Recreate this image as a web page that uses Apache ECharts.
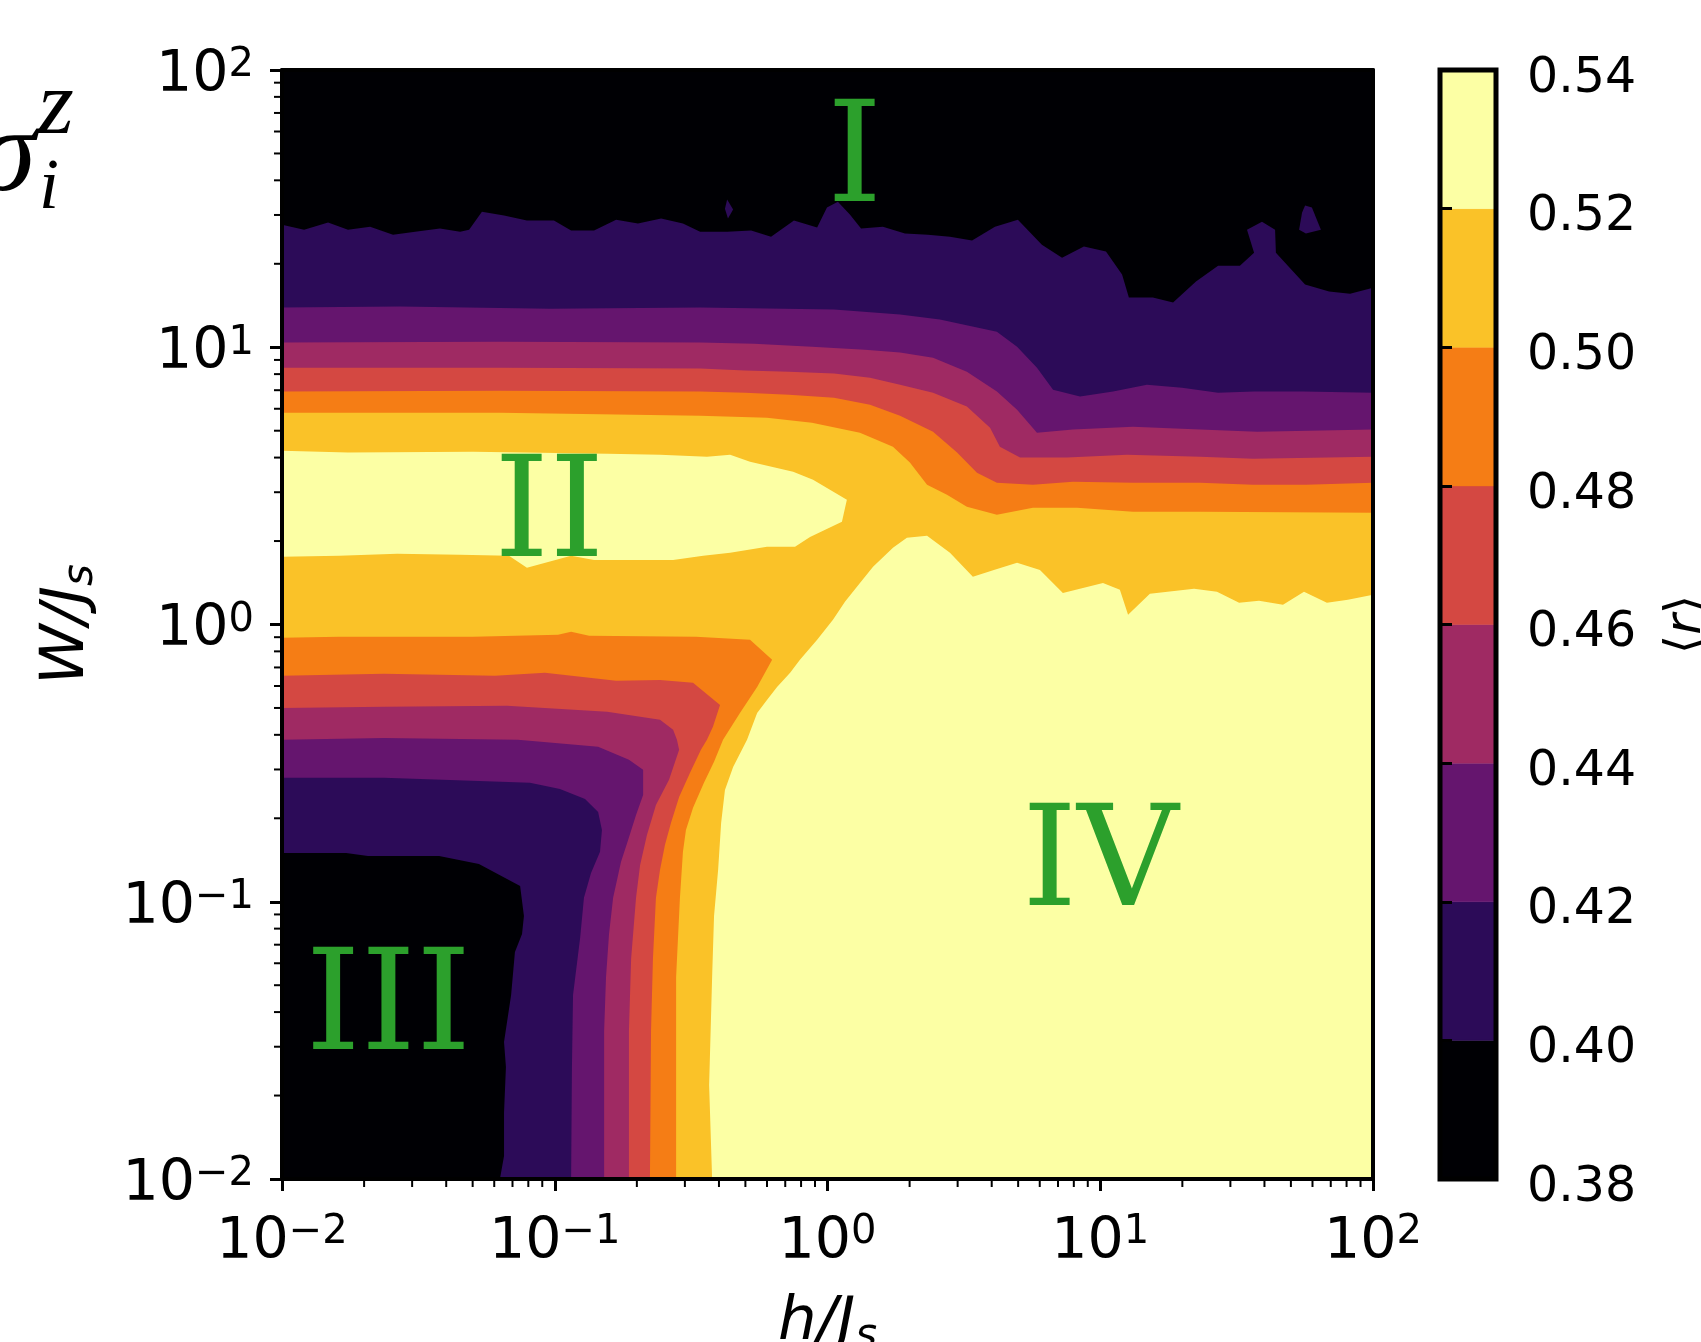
<!DOCTYPE html>
<html lang="en">
<head>
<meta charset="utf-8" />
<script src="https://cdn.jsdelivr.net/npm/echarts@6/dist/echarts.min.js"></script>
<style>
  html, body { margin: 0; background: #fff; }
  #container { width: 1701px; height: 1342px; }
</style>
</head>
<body>
<div id="container"></div>
<script type="text/javascript">
// filled-contour levels of <r> and the inferno colour of each band
var levels = [0.38, 0.40, 0.42, 0.44, 0.46, 0.48, 0.50, 0.52, 0.54];
var bandColors = ['#000004', '#2c0b58', '#65156e', '#9f2a63', '#d44842', '#f57d15', '#fac228', '#fcffa4'];

// contour boundaries, as [log10(h/Js), log10(W/Js)]
// each array is the region where <r> >= its level
var c038 = [[-2, -2], [2, -2], [2, 2], [-2, 2]];
var c040 = [[-2,1.442],[-1.919,1.424],[-1.831,1.450],[-1.758,1.424],[-1.677,1.435],[-1.593,1.406],[-1.512,1.417],[-1.421,1.428],[-1.347,1.417],[-1.314,1.424],[-1.267,1.489],[-1.186,1.475],[-1.102,1.457],[-1.003,1.457],[-0.940,1.421],[-0.856,1.421],[-0.775,1.460],[-0.695,1.446],[-0.610,1.464],[-0.530,1.446],[-0.467,1.417],[-0.368,1.417],[-0.280,1.421],[-0.207,1.399],[-0.123,1.457],[-0.038,1.432],[-0.002,1.504],[0.038,1.525],[0.082,1.479],[0.123,1.428],[0.203,1.435],[0.284,1.410],[0.368,1.406],[0.449,1.399],[0.530,1.385],[0.614,1.435],[0.698,1.460],[0.786,1.370],[0.860,1.323],[0.940,1.363],[1.021,1.345],[1.080,1.262],[1.105,1.179],[1.193,1.179],[1.267,1.161],[1.351,1.237],[1.432,1.294],[1.512,1.294],[1.564,1.341],[1.538,1.424],[1.593,1.453],[1.641,1.424],[1.644,1.341],[1.751,1.226],[1.839,1.201],[1.916,1.193],[2,1.215],
  [2,-2],[-1.201,-2],[-1.186,-1.917],[-1.186,-1.762],[-1.179,-1.596],[-1.186,-1.506],[-1.160,-1.336],[-1.146,-1.181],[-1.120,-1.116],[-1.113,-1.051],[-1.127,-0.943],[-1.278,-0.864],[-1.424,-0.835],[-1.685,-0.835],[-1.765,-0.824],[-2,-0.824]];
var c040a = [[-0.368,1.533],[-0.346,1.497],[-0.365,1.464],[-0.376,1.500]];
var c040b = [[1.751,1.511],[1.776,1.504],[1.809,1.424],[1.754,1.410],[1.729,1.424],[1.740,1.486]];
var c042 = [[-2,1.143],[-1.567,1.147],[-1.017,1.139],[-0.467,1.143],[0.024,1.136],[0.266,1.118],[0.412,1.100],[0.621,1.056],[0.695,1.002],[0.768,0.926],[0.827,0.847],[0.926,0.822],[1.047,0.840],[1.171,0.865],[1.300,0.854],[1.432,0.836],[1.564,0.840],[1.743,0.840],[2,0.836],
  [2,-2],[-0.940,-2],[-0.937,-1.596],[-0.933,-1.336],[-0.907,-1.131],[-0.893,-0.986],[-0.867,-0.896],[-0.834,-0.820],[-0.827,-0.741],[-0.841,-0.676],[-0.889,-0.629],[-0.981,-0.593],[-1.091,-0.571],[-1.626,-0.553],[-2,-0.553]];
var c044 = [[-2,1.017],[-1.201,1.020],[-0.467,1.017],[-0.269,1.013],[-0.057,1.002],[0.137,0.991],[0.266,0.981],[0.387,0.962],[0.511,0.912],[0.621,0.840],[0.695,0.775],[0.768,0.692],[0.900,0.703],[1.120,0.713],[1.366,0.703],[1.575,0.695],[2,0.703],
  [2,-2],[-0.819,-2],[-0.819,-1.466],[-0.812,-1.271],[-0.801,-1.116],[-0.786,-0.986],[-0.757,-0.856],[-0.731,-0.777],[-0.702,-0.687],[-0.676,-0.615],[-0.676,-0.524],[-0.728,-0.488],[-0.841,-0.441],[-1.135,-0.416],[-1.626,-0.409],[-2,-0.416]];
var c046 = [[-2,0.926],[-1.201,0.926],[-0.467,0.923],[-0.302,0.916],[-0.141,0.912],[0.024,0.905],[0.156,0.890],[0.266,0.865],[0.387,0.836],[0.511,0.786],[0.596,0.710],[0.632,0.641],[0.706,0.602],[0.878,0.602],[1.098,0.612],[1.366,0.605],[1.560,0.598],[2,0.605],
  [2,-2],[-0.728,-2],[-0.728,-1.466],[-0.720,-1.206],[-0.702,-0.986],[-0.687,-0.867],[-0.662,-0.759],[-0.629,-0.651],[-0.581,-0.560],[-0.544,-0.452],[-0.552,-0.416],[-0.566,-0.380],[-0.614,-0.344],[-0.808,-0.315],[-1.175,-0.293],[-1.626,-0.297],[-2,-0.301]];
var c048 = [[-2,0.840],[-1.201,0.843],[-0.467,0.840],[-0.302,0.836],[-0.141,0.829],[0.024,0.818],[0.156,0.793],[0.266,0.753],[0.387,0.695],[0.475,0.620],[0.548,0.547],[0.621,0.511],[0.753,0.504],[0.900,0.515],[1.120,0.511],[1.366,0.511],[1.560,0.504],[1.754,0.504],[2,0.511],
  [2,-2],[-0.651,-2],[-0.647,-1.466],[-0.640,-1.206],[-0.629,-0.986],[-0.614,-0.885],[-0.596,-0.795],[-0.574,-0.716],[-0.544,-0.622],[-0.504,-0.535],[-0.464,-0.452],[-0.442,-0.416],[-0.420,-0.369],[-0.394,-0.290],[-0.493,-0.210],[-0.614,-0.200],[-0.775,-0.203],[-1.036,-0.174],[-1.219,-0.185],[-1.626,-0.178],[-2,-0.185]];
var c050 = [[-2,0.764],[-1.201,0.764],[-0.467,0.753],[-0.222,0.746],[-0.057,0.728],[0.119,0.692],[0.240,0.641],[0.302,0.584],[0.365,0.504],[0.438,0.468],[0.511,0.425],[0.621,0.396],[0.753,0.421],[0.915,0.421],[1.120,0.407],[1.366,0.407],[2,0.403],
  [2,-2],[-0.555,-2],[-0.555,-1.271],[-0.541,-0.986],[-0.530,-0.820],[-0.519,-0.741],[-0.493,-0.661],[-0.453,-0.571],[-0.416,-0.495],[-0.383,-0.416],[-0.321,-0.319],[-0.258,-0.225],[-0.203,-0.127],[-0.284,-0.055],[-0.482,-0.044],[-0.874,-0.041],[-0.940,-0.026],[-0.988,-0.037],[-1.300,-0.044],[-1.593,-0.044],[-1.791,-0.044],[-2,-0.048]];
var c052a = [[-2,0.627],[-1.758,0.620],[-1.300,0.623],[-0.808,0.616],[-0.614,0.612],[-0.442,0.605],[-0.357,0.612],[-0.284,0.587],[-0.126,0.551],[-0.053,0.522],[0.071,0.450],[0.053,0.371],[-0.064,0.316],[-0.119,0.280],[-0.222,0.280],[-0.357,0.259],[-0.456,0.248],[-0.566,0.233],[-0.856,0.233],[-0.940,0.248],[-1.102,0.205],[-1.168,0.248],[-1.347,0.252],[-1.578,0.255],[-1.791,0.248],[-2,0.244]];
var c052b = [[-0.423,-2],[-0.434,-1.661],[-0.423,-1.271],[-0.416,-1.051],[-0.401,-0.885],[-0.390,-0.716],[-0.376,-0.597],[-0.346,-0.514],[-0.295,-0.416],[-0.258,-0.319],[-0.222,-0.272],[-0.185,-0.225],[-0.137,-0.174],[-0.101,-0.127],[-0.038,-0.055],[0.020,0.017],[0.064,0.082],[0.119,0.150],[0.167,0.208],[0.240,0.277],[0.291,0.313],[0.365,0.320],[0.449,0.259],[0.533,0.172],[0.610,0.197],[0.695,0.223],[0.779,0.197],[0.863,0.114],[1.010,0.150],[1.072,0.125],[1.102,0.035],[1.182,0.111],[1.344,0.129],[1.428,0.118],[1.509,0.078],[1.582,0.086],[1.670,0.071],[1.747,0.118],[1.831,0.078],[1.908,0.089],[2,0.107],[2,-2]];

// phase labels and where they sit
var regionNames = ['I', 'II', 'III', 'IV'];
var regionLogH = [0.10, -1.02, -1.61, 1.00];
var regionLogW = [1.66, 0.38, -1.40, -0.88];

// log-axis minor ticks
var minorSteps = [2, 3, 4, 5, 6, 7, 8, 9];
var decadeStarts = [0.01, 0.1, 1, 10];

var regions = [
  { level: 0.38, pts: c038 },
  { level: 0.40, pts: c040 }, { level: 0.40, pts: c040a }, { level: 0.40, pts: c040b },
  { level: 0.42, pts: c042 },
  { level: 0.44, pts: c044 },
  { level: 0.46, pts: c046 },
  { level: 0.48, pts: c048 },
  { level: 0.50, pts: c050 },
  { level: 0.52, pts: c052a }, { level: 0.52, pts: c052b }
];

var minorVals = [];
decadeStarts.forEach(function (d) {
  minorSteps.forEach(function (k) { minorVals.push(k * d); });
});

function lin(p) { return [Math.pow(10, p[0]), Math.pow(10, p[1])]; }

function powLabel(v) {
  var e = Math.round(Math.log10(v));
  return '{b|10}{s|' + (e < 0 ? '\u2212' + (-e) : e) + '}';
}

var FONT = 'DejaVu Sans';
var tickRich = {
  b: { fontFamily: FONT, fontSize: 57, lineHeight: 60, color: '#000' },
  s: { fontFamily: FONT, fontSize: 40, lineHeight: 6, verticalAlign: 'top', color: '#000' }
};
var spine = { show: true, lineStyle: { color: '#000', width: 4 } };
var majorTick = { show: true, length: 12, lineStyle: { color: '#000', width: 3 } };
var nameRich = {
  i: { fontFamily: FONT, fontStyle: 'italic', fontSize: 61, lineHeight: 70, color: '#000' },
  s: { fontFamily: FONT, fontStyle: 'italic', fontSize: 42, lineHeight: 46, verticalAlign: 'bottom', color: '#000' }
};

var dom = document.getElementById('container');
var myChart = echarts.init(dom, null, { renderer: 'canvas' });

var option = {
  animation: false,
  backgroundColor: '#fff',
  grid: [
    { left: 282, top: 70, width: 1091, height: 1109, containLabel: false, outerBoundsMode: 'none' },
    { left: 1440, top: 70, width: 56, height: 1109, containLabel: false, outerBoundsMode: 'none' }
  ],
  xAxis: [
    {
      type: 'log', gridIndex: 0, min: 0.01, max: 100, position: 'bottom', z: 10,
      axisLine: spine, axisTick: majorTick, splitLine: { show: false },
      axisLabel: { margin: 34, formatter: powLabel, rich: tickRich },
      name: '{i|h/J}{s|s}', nameLocation: 'middle', nameGap: 109,
      nameTextStyle: { rich: nameRich }
    },
    {
      type: 'log', gridIndex: 0, min: 0.01, max: 100, position: 'top', z: 10,
      axisLine: spine, axisTick: { show: false }, axisLabel: { show: false }, splitLine: { show: false }
    },
    { type: 'value', gridIndex: 1, min: 0, max: 1, show: false }
  ],
  yAxis: [
    {
      type: 'log', gridIndex: 0, min: 0.01, max: 100, position: 'left', z: 10,
      axisLine: spine, axisTick: majorTick, splitLine: { show: false },
      axisLabel: { margin: 28, padding: [12, 0, 0, 0], formatter: powLabel, rich: tickRich },
      name: '{i|W/J}{s|s}', nameLocation: 'middle', nameRotate: 90, nameGap: 180,
      nameTextStyle: { rich: nameRich }
    },
    {
      type: 'log', gridIndex: 0, min: 0.01, max: 100, position: 'right', z: 10,
      axisLine: spine, axisTick: { show: false }, axisLabel: { show: false }, splitLine: { show: false }
    },
    {
      type: 'value', gridIndex: 1, min: 0.38, max: 0.54, interval: 0.02, position: 'right', z: 10,
      axisLine: { show: false }, splitLine: { show: false },
      axisTick: { show: true, length: 12, lineStyle: { color: '#000', width: 3 } },
      axisLabel: {
        margin: 31, verticalAlign: 'top', lineHeight: 18, fontFamily: FONT, fontSize: 49, color: '#000',
        formatter: function (v) { return v.toFixed(2); }
      },
      name: '{a|\u27e8}{r|r}{a|\u27e9}', nameLocation: 'middle', nameRotate: 90, nameGap: 166,
      nameTextStyle: {
        rich: {
          a: { fontFamily: FONT, fontSize: 50, color: '#000' },
          r: { fontFamily: FONT, fontStyle: 'italic', fontSize: 50, color: '#000' }
        }
      }
    }
  ],
  graphic: [
    { type: 'text', x: 36, y: 159, style: { text: '\u03c3', font: 'italic 118px "Liberation Serif"', textAlign: 'right', textVerticalAlign: 'middle', fill: '#000' } },
    { type: 'text', x: 38, y: 109, style: { text: 'z', font: 'italic 92px "Liberation Serif"', textAlign: 'left', textVerticalAlign: 'middle', fill: '#000' } },
    { type: 'text', x: 39, y: 189, style: { text: 'i', font: 'italic 72px "Liberation Serif"', textAlign: 'left', textVerticalAlign: 'middle', fill: '#000' } }
  ],
  series: [
    {
      type: 'custom', xAxisIndex: 0, yAxisIndex: 0, clip: true, silent: true, z: 2,
      data: regions.map(function (r) { return lin(r.pts[0]); }),
      renderItem: function (params, api) {
        var r = regions[params.dataIndex];
        var pts = r.pts.map(function (p) { return api.coord(lin(p)); });
        var c = bandColors[Math.round((r.level - levels[0]) / 0.02)];
        return { type: 'polygon', shape: { points: pts }, style: { fill: c } };
      }
    },
    {
      type: 'scatter', xAxisIndex: 0, yAxisIndex: 0, symbolSize: 0, silent: true, z: 5,
      itemStyle: { opacity: 1 },
      data: regionNames.map(function (n, i) {
        return { value: [Math.pow(10, regionLogH[i]), Math.pow(10, regionLogW[i])], name: n };
      }),
      label: {
        show: true, position: 'inside', formatter: '{b}',
        fontFamily: 'DejaVu Serif', fontSize: 140, color: '#2ca02c', opacity: 1
      }
    },
    {
      type: 'custom', xAxisIndex: 0, yAxisIndex: 0, clip: false, silent: true, z: 10,
      data: minorVals.map(function (v) { return [v, v]; }),
      renderItem: function (params, api) {
        var v = api.value(0);
        var px = api.coord([v, 0.01]);
        var py = api.coord([0.01, v]);
        var st = { stroke: '#000', lineWidth: 2 };
        return {
          type: 'group',
          children: [
            { type: 'line', shape: { x1: px[0], y1: px[1], x2: px[0], y2: px[1] + 8 }, style: st },
            { type: 'line', shape: { x1: py[0], y1: py[1], x2: py[0] - 8, y2: py[1] }, style: st }
          ]
        };
      }
    },
    {
      type: 'custom', xAxisIndex: 2, yAxisIndex: 2, clip: false, silent: true, z: 2,
      data: bandColors.map(function (c, i) { return [0.5, (levels[i] + levels[i + 1]) / 2]; }),
      renderItem: function (params, api) {
        var i = params.dataIndex;
        var p0 = api.coord([0, levels[i]]);
        var p1 = api.coord([1, levels[i + 1]]);
        return {
          type: 'rect',
          shape: { x: p0[0], y: p1[1], width: p1[0] - p0[0], height: p0[1] - p1[1] },
          style: { fill: bandColors[i], stroke: bandColors[i], lineWidth: 0.5 }
        };
      }
    },
    {
      type: 'custom', xAxisIndex: 2, yAxisIndex: 2, clip: false, silent: true, z: 8,
      data: [[0.5, 0.46]],
      renderItem: function (params, api) {
        var p0 = api.coord([0, levels[0]]);
        var p1 = api.coord([1, levels[levels.length - 1]]);
        return {
          type: 'rect',
          shape: { x: p0[0], y: p1[1], width: p1[0] - p0[0], height: p0[1] - p1[1] },
          style: { fill: null, stroke: '#000', lineWidth: 5 }
        };
      }
    }
  ]
};

myChart.setOption(option);
window.addEventListener('resize', myChart.resize);
</script>
</body>
</html>
